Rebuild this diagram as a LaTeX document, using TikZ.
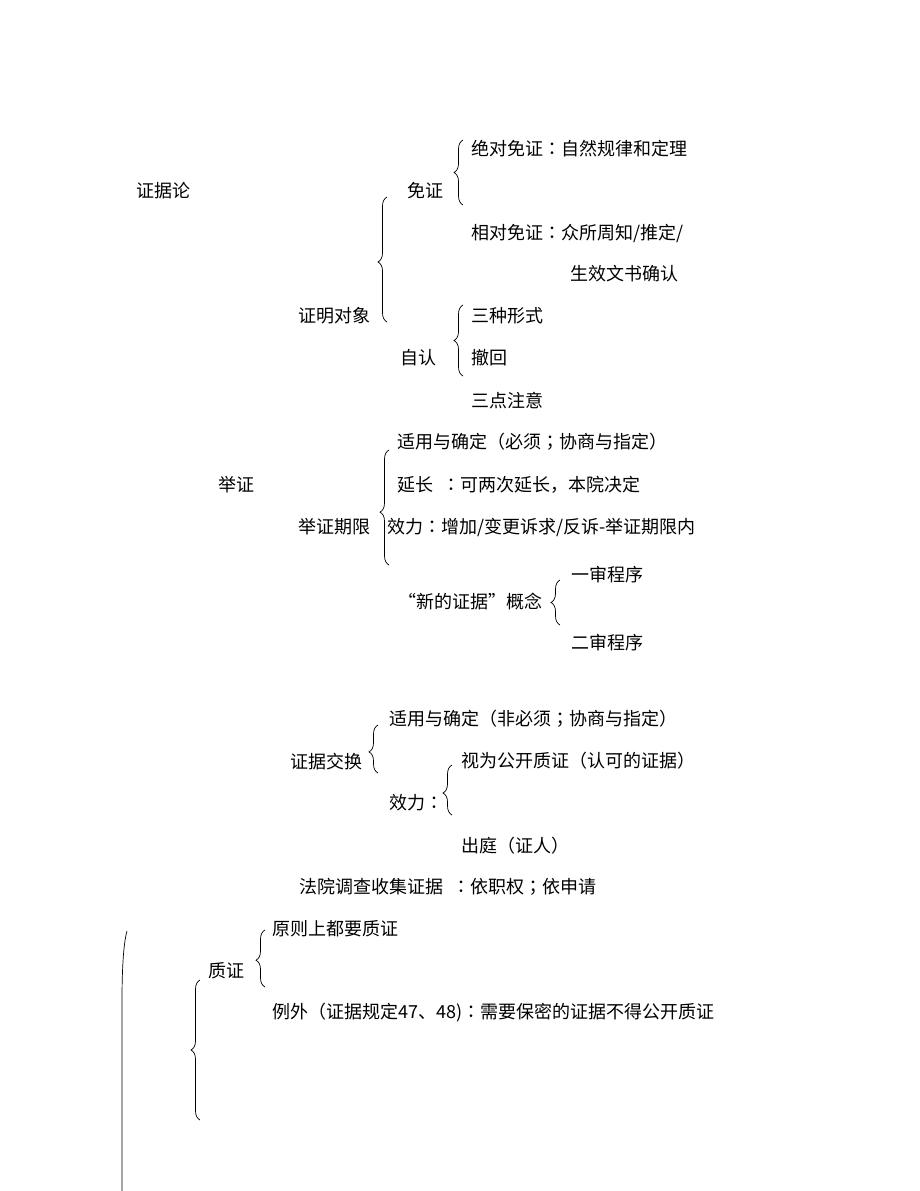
\documentclass[tikz,border=0pt]{standalone}
\usepackage{fontspec}
\setmainfont{Noto Sans CJK SC}
\newfontfamily\jpf{Noto Sans CJK JP}
\newcommand\cc[1]{{\jpf #1}}
\usetikzlibrary{decorations.pathreplacing}
\begin{document}
\begin{tikzpicture}[x=1pt,y=-1pt,
  t/.style={anchor=west,inner sep=0pt,font=\fontsize{18}{20}\selectfont},
  br/.style={decorate,decoration={brace,amplitude=9pt,aspect=#1},line width=0.7pt},
  br/.default=0.5]
\useasboundingbox[fill=white] (0,0) rectangle (920,1191);
% texts
\node[t] (zjl) at (136,191) {证据论};
\node[t] (mz) at (407,191) {免证};
\node[t] (jd) at (471,149) {绝对免证\cc{：}自然规律和定理};
\node[t] (xd) at (471,233) {相对免证\cc{：}众所周知/推定/};
\node[t] (sx) at (570,274) {生效文书确认};
\node[t] (zmdx) at (298,316) {证明对象};
\node[t] (zr) at (400,358) {自认};
\node[t] (szxs) at (471,316) {三种形式};
\node[t] (ch) at (471,358) {撤回};
\node[t] (sdzy) at (471,401) {三点注意};
\node[t] (jz) at (218,485) {举证};
\node[t] (jzqx) at (298,527) {举证期限};
\node[t] (sy1) at (397,442) {适用与确定（必须\cc{；}协商与指定）};
\node[t] (yc) at (397,485) {延长\hspace{9pt}\cc{：}可两次延长，本院决定};
\node[t] (xl1) at (387,527) {效力\cc{：}增加/变更诉求/反诉-举证期限内};
\node[t] (ys) at (571,575) {一审程序};
\node[t] (xdzj) at (398,602) {“新的证据”概念};
\node[t] (es) at (571,643) {二审程序};
\node[t] (sy2) at (389,719) {适用与确定（非必须\cc{；}协商与指定）};
\node[t] (zjjh) at (290,762) {证据交换};
\node[t] (sw) at (461,761) {视为公开质证（认可的证据）};
\node[t] (xl2) at (389,803) {效力\cc{：}};
\node[t] (ct) at (461,846) {出庭（证人）};
\node[t] (fy) at (299,887) {法院调查收集证据\hspace{9pt}\cc{：}依职权\cc{；}依申请};
\node[t] (yz) at (272,929) {原则上都要质证};
\node[t] (zz) at (208,971) {质证};
\node[t] (lw) at (272,1013) {例外（证据规定47、48)\cc{：}需要保密的证据不得公开质证};
% braces (drawn bottom to top, tip to the left)
\draw[br] (463,205) -- (463,140);
\draw[br=0.48] (387,322) -- (387,197);
\draw[br] (463,376) -- (463,305);
\draw[br=0.46] (389,565) -- (389,450);
\draw[br] (560,625) -- (560,580);
\draw[br=0.44] (378,773) -- (378,725);
\draw[br=0.44] (452,815) -- (452,765);
\draw[br=0.47] (265,987) -- (265,930);
\draw[br] (200,1120) -- (200,980);
% leftmost partial brace
\draw[line width=0.7pt] (127,931) .. controls (123,945) and (122,975) .. (122,1000) -- (122,1191);
\end{tikzpicture}
\end{document}
